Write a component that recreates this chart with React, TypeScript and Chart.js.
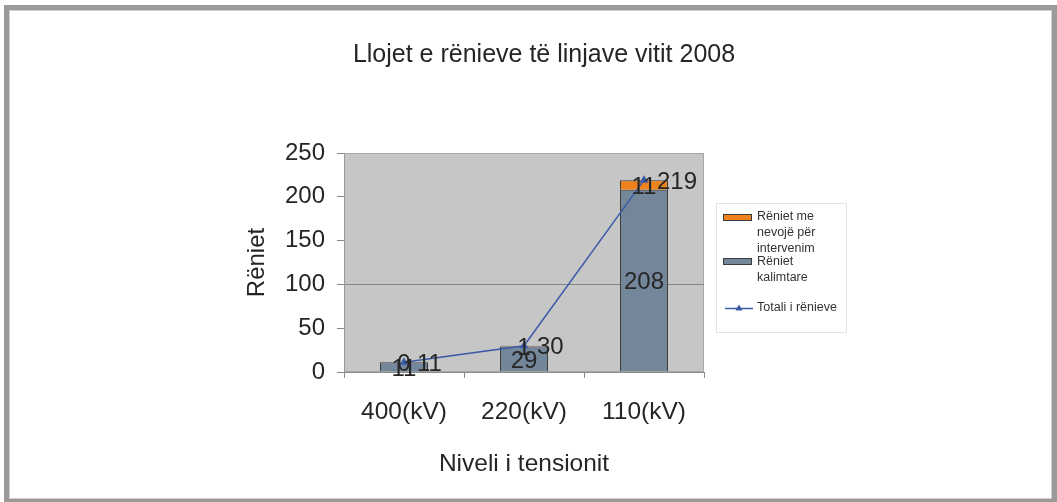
import React, { useEffect, useRef } from 'react';
import { Chart, registerables } from 'chart.js';

Chart.register(...registerables);

// ---- data ----
const categories = ['400(kV)', '220(kV)', '110(kV)'];
const intervenim = [0, 1, 11];
const kalimtare = [11, 29, 208];
const totali = [11, 30, 219];
const yTicks = [0, 50, 100, 150, 200, 250];

const titleText = 'Llojet e rënieve të linjave vitit 2008';
const yTitle = 'Rëniet';
const xTitle = 'Niveli i tensionit';
const legendIntervenim = ['Rëniet me', 'nevojë për', 'intervenim'];
const legendKalimtare = ['Rëniet', 'kalimtare'];
const legendTotali = ['Totali i rënieve'];

// ---- styles ----
const FONT = '"Liberation Sans", Arial, sans-serif';
const TEXT = '#262626';
const ORANGE = '#f0821e';
const GRAY = '#74869a';
const LINE = '#3a5aa8';
const BAR_BORDER = '#3c3c3c';
const PLOT_BG = '#c6c6c6';

const W = 1057;
const H = 502;

const framePlugin = {
  id: 'frameAndPlot',
  beforeDraw(chart: any) {
    const { ctx, chartArea: a } = chart;
    ctx.save();
    ctx.fillStyle = '#ffffff';
    ctx.fillRect(0, 0, W, H);
    // outer frame
    ctx.strokeStyle = '#9a9a9a';
    ctx.lineWidth = 5;
    ctx.strokeRect(6.5, 7.5, 1048, 494);
    ctx.strokeStyle = '#cfcfcf';
    ctx.lineWidth = 1;
    ctx.strokeRect(9.5, 10.5, 1042, 488);
    // plot area
    ctx.fillStyle = PLOT_BG;
    ctx.fillRect(a.left, a.top, a.right - a.left, a.bottom - a.top);
    ctx.strokeStyle = '#a8a8a8';
    ctx.strokeRect(a.left + 0.5, a.top + 0.5, a.right - a.left - 1, a.bottom - a.top - 1);
    ctx.restore();
  },
};

const labelPlugin = {
  id: 'valueLabels',
  afterDatasetsDraw(chart: any) {
    const { ctx } = chart;
    ctx.save();
    ctx.font = `24px ${FONT}`;
    ctx.fillStyle = TEXT;
    ctx.textBaseline = 'middle';
    chart.data.datasets.forEach((ds: any, i: number) => {
      const meta = chart.getDatasetMeta(i);
      meta.data.forEach((el: any, j: number) => {
        const v = ds.data[j];
        if (ds.type === 'line') {
          ctx.textAlign = 'left';
          ctx.fillText(String(v), el.x + 13, el.y + 2);
        } else {
          ctx.textAlign = 'center';
          ctx.fillText(String(v), el.x, (el.y + el.base) / 2 + 2);
        }
      });
    });
    ctx.restore();
  },
};

const titleLegendPlugin = {
  id: 'titleLegend',
  afterDraw(chart: any) {
    const { ctx } = chart;
    ctx.save();
    // title
    ctx.font = `25px ${FONT}`;
    ctx.fillStyle = TEXT;
    ctx.textAlign = 'center';
    ctx.textBaseline = 'middle';
    ctx.fillText(titleText, 544, 55);

    // legend box
    ctx.fillStyle = '#ffffff';
    ctx.fillRect(716, 203, 131, 130);
    ctx.strokeStyle = '#e2e2e2';
    ctx.lineWidth = 1;
    ctx.strokeRect(716.5, 203.5, 130, 129);

    const ds = chart.data.datasets;
    ctx.font = `12.5px ${FONT}`;
    ctx.textAlign = 'left';
    ctx.textBaseline = 'middle';
    const drawLines = (lines: string[], y: number) => {
      ctx.fillStyle = '#333333';
      lines.forEach((t, k) => ctx.fillText(t, 757, y + k * 16));
    };
    // intervenim swatch
    ctx.fillStyle = ds[2].backgroundColor;
    ctx.fillRect(723, 214, 29, 7);
    ctx.strokeStyle = BAR_BORDER;
    ctx.strokeRect(723.5, 214.5, 28, 6);
    drawLines(legendIntervenim, 217);
    // kalimtare swatch
    ctx.fillStyle = ds[1].backgroundColor;
    ctx.fillRect(723, 258, 29, 7);
    ctx.strokeStyle = BAR_BORDER;
    ctx.strokeRect(723.5, 258.5, 28, 6);
    drawLines(legendKalimtare, 262);
    // total line
    ctx.strokeStyle = ds[0].borderColor;
    ctx.lineWidth = 1.5;
    ctx.beginPath();
    ctx.moveTo(725, 308.5);
    ctx.lineTo(753, 308.5);
    ctx.stroke();
    ctx.fillStyle = ds[0].borderColor;
    ctx.beginPath();
    ctx.moveTo(739, 304.5);
    ctx.lineTo(742.5, 310.5);
    ctx.lineTo(735.5, 310.5);
    ctx.closePath();
    ctx.fill();
    drawLines(legendTotali, 308);
    ctx.restore();
  },
};

export default function App() {
  const ref = useRef<HTMLCanvasElement>(null);
  useEffect(() => {
    const chart = new Chart(ref.current as HTMLCanvasElement, {
      type: 'bar',
      data: {
        labels: categories,
        datasets: [
          {
            type: 'line',
            label: legendTotali.join(' '),
            data: totali,
            borderColor: LINE,
            backgroundColor: LINE,
            borderWidth: 1.5,
            pointStyle: 'triangle',
            pointRadius: 3.5,
            pointBackgroundColor: LINE,
            pointBorderColor: LINE,
            stack: 'total',
            order: 0,
            tension: 0,
          } as any,
          {
            type: 'bar',
            label: legendKalimtare.join(' '),
            data: kalimtare,
            backgroundColor: GRAY,
            borderColor: BAR_BORDER,
            borderWidth: 1,
            barPercentage: 0.4,
            categoryPercentage: 1,
            stack: 'bars',
            order: 1,
          },
          {
            type: 'bar',
            label: legendIntervenim.join(' '),
            data: intervenim,
            backgroundColor: ORANGE,
            borderColor: BAR_BORDER,
            borderWidth: 1,
            barPercentage: 0.4,
            categoryPercentage: 1,
            stack: 'bars',
            order: 2,
          },
        ],
      },
      options: {
        responsive: false,
        animation: false,
        devicePixelRatio: 1,
        layout: { padding: { left: 239, right: 353, top: 153, bottom: 19 } },
        plugins: {
          legend: { display: false },
          title: { display: false },
          tooltip: { enabled: false },
        },
        scales: {
          x: {
            stacked: true,
            grid: {
              offset: true,
              drawOnChartArea: false,
              tickLength: 6,
              tickColor: '#8a8a8a',
            },
            border: { display: true, color: '#8a8a8a' },
            ticks: { padding: 20, color: TEXT, font: { family: FONT, size: 24.5 } },
            title: {
              display: true,
              text: xTitle,
              color: TEXT,
              font: { family: FONT, size: 24.5 },
              padding: { top: 4, bottom: 4 },
            },
            afterFit: (s: any) => {
              s.height = 111;
            },
          },
          y: {
            stacked: true,
            min: 0,
            max: 250,
            afterBuildTicks: (s: any) => {
              s.ticks = yTicks.map((v) => ({ value: v }));
            },
            grid: {
              color: (c: any) => (c.tick && c.tick.value === 100 ? '#858585' : 'rgba(0,0,0,0)'),
              tickColor: '#8a8a8a',
              tickLength: 7,
            },
            border: { display: true, color: '#9a9a9a' },
            ticks: { padding: 12, color: TEXT, font: { family: FONT, size: 24 } },
            title: {
              display: true,
              text: yTitle,
              color: TEXT,
              font: { family: FONT, size: 24 },
              padding: { top: 4, bottom: 4 },
            },
            afterFit: (s: any) => {
              s.width = 105;
            },
          },
        },
      },
      plugins: [framePlugin, labelPlugin, titleLegendPlugin],
    } as any);
    return () => chart.destroy();
  }, []);

  return (
    <div style={{ position: 'fixed', left: 0, top: 0, width: W, height: H }}>
      <canvas ref={ref} width={W} height={H} style={{ width: W, height: H, display: 'block' }} />
    </div>
  );
}
